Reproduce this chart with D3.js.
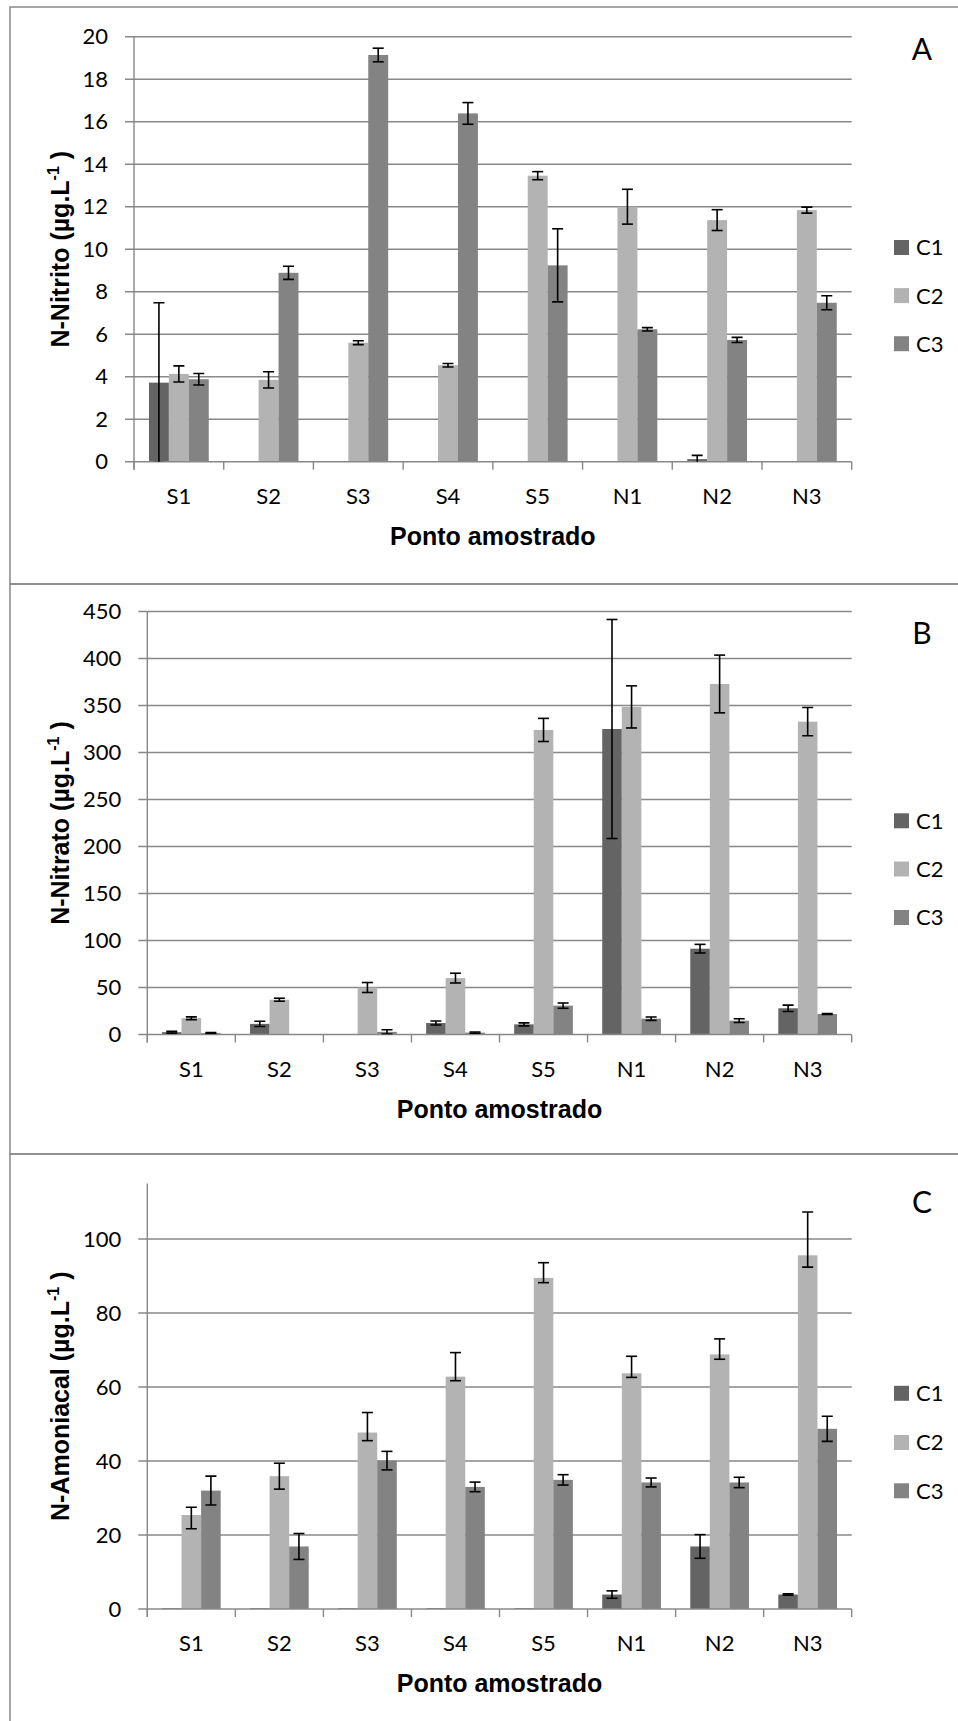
<!DOCTYPE html>
<html>
<head>
<meta charset="utf-8">
<script src="https://cdn.jsdelivr.net/npm/d3@7"></script>
<style>
  html, body { margin: 0; padding: 0; background: #fff; }
  svg { display: block; }
</style>
</head>
<body>
<svg id="chart" width="958" height="1721"></svg>
<script>
// Sampling points and campaigns
const categories = ["S1", "S2", "S3", "S4", "S5", "N1", "N2", "N3"];
const seriesNames = ["C1", "C2", "C3"];

// Panel A: N-Nitrito (µg/L), mean and error
const nitritoC1 = [3.72, 0, 0, 0, 0, 0, 0.12, 0];
const nitritoC1Err = [3.76, 0, 0, 0, 0, 0, 0.18, 0];
const nitritoC2 = [4.13, 3.85, 5.6, 4.54, 13.46, 12.0, 11.37, 11.84];
const nitritoC2Err = [0.38, 0.38, 0.09, 0.08, 0.19, 0.82, 0.49, 0.14];
const nitritoC3 = [3.88, 8.89, 19.14, 16.39, 9.24, 6.23, 5.73, 7.48];
const nitritoC3Err = [0.27, 0.31, 0.32, 0.51, 1.72, 0.08, 0.12, 0.33];
const nitritoTicks = [0, 2, 4, 6, 8, 10, 12, 14, 16, 18, 20];

// Panel B: N-Nitrato (µg/L)
const nitratoC1 = [2.5, 11.3, 0.3, 12.2, 10.8, 325, 91.3, 27.9];
const nitratoC1Err = [1, 2.8, 0, 2.1, 1.6, 116.5, 4.6, 3.4];
const nitratoC2 = [17.3, 37, 50, 60, 324, 348.5, 372.9, 332.8];
const nitratoC2Err = [1.5, 1.6, 5.3, 5.2, 12.3, 22.4, 30.7, 15];
const nitratoC3 = [1.5, 0.5, 2.8, 2, 30.7, 16.8, 14.7, 21.8];
const nitratoC3Err = [0.5, 0, 2.3, 0.7, 2.8, 1.8, 2, 0.5];
const nitratoTicks = [0, 50, 100, 150, 200, 250, 300, 350, 400, 450];

// Panel C: N-Amoniacal (µg/L); C2 has unequal upper/lower errors
const amoniacalC1 = [0.2, 0.2, 0.2, 0.2, 0.2, 3.9, 16.9, 3.9];
const amoniacalC1Err = [0, 0, 0, 0, 0, 1.0, 3.2, 0.2];
const amoniacalC2 = [25.4, 35.9, 47.7, 62.8, 89.5, 63.7, 68.8, 95.6];
const amoniacalC2ErrUp = [2.1, 3.5, 5.4, 6.5, 4.1, 4.6, 4.2, 11.7];
const amoniacalC2ErrDown = [3.7, 3.5, 2.2, 1.1, 1.3, 1.1, 1.3, 3.2];
const amoniacalC3 = [32.0, 16.9, 40.1, 33.0, 34.9, 34.2, 34.2, 48.7];
const amoniacalC3Err = [3.9, 3.5, 2.5, 1.3, 1.4, 1.2, 1.4, 3.4];
const amoniacalTicks = [0, 20, 40, 60, 80, 100];

const seriesColors = ["#646464", "#b3b3b3", "#838383"];
const gridColor = "#888888";
const labelFont = "Lato, 'Open Sans', sans-serif";
const titleFont = "'Liberation Sans', Arial, sans-serif";

const svg = d3.select("#chart");

function buildSeries(vals, up, down) {
  return vals.map((v, i) => ({ value: v, up: up[i], down: (down || up)[i] }));
}

const panels = [
  {
    letter: "A", title: "N-Nitrito (µg.L", top: 7, bottom: 584,
    left: 134, right: 851.7, y0: 461.7, yMaxPx: 36.7, yMax: 20, ticks: nitritoTicks,
    letterY: 60, legendY: [247.5, 295.6, 343.7], catY: 504, xTitleY: 545,
    series: [buildSeries(nitritoC1, nitritoC1Err), buildSeries(nitritoC2, nitritoC2Err), buildSeries(nitritoC3, nitritoC3Err)]
  },
  {
    letter: "B", title: "N-Nitrato (µg.L", top: 584, bottom: 1154,
    left: 147.3, right: 851.7, y0: 1034.5, yMaxPx: 611.5, yMax: 450, ticks: nitratoTicks,
    letterY: 644, legendY: [820.8, 869, 917.5], catY: 1077.3, xTitleY: 1118.3,
    series: [buildSeries(nitratoC1, nitratoC1Err), buildSeries(nitratoC2, nitratoC2Err), buildSeries(nitratoC3, nitratoC3Err)]
  },
  {
    letter: "C", title: "N-Amoniacal (µg.L", top: 1154, bottom: 1760,
    left: 147.3, right: 851.7, y0: 1609, yMaxPx: 1183.5, yMax: 115, ticks: amoniacalTicks,
    letterY: 1213, legendY: [1393.3, 1442.5, 1490.8], catY: 1650.7, xTitleY: 1692.3,
    series: [buildSeries(amoniacalC1, amoniacalC1Err), buildSeries(amoniacalC2, amoniacalC2ErrUp, amoniacalC2ErrDown), buildSeries(amoniacalC3, amoniacalC3Err)]
  }
];

panels.forEach(p => {
  const g = svg.append("g");

  // panel frame
  g.append("rect")
    .attr("x", 10).attr("y", p.top)
    .attr("width", 1000).attr("height", p.bottom - p.top)
    .attr("fill", "none").attr("stroke", gridColor).attr("stroke-width", 1.5);

  const y = d3.scaleLinear().domain([0, p.yMax]).range([p.y0, p.yMaxPx]);
  const x = d3.scaleBand().domain(categories).range([p.left, p.right]).paddingInner(0).paddingOuter(0);
  const xs = d3.scaleBand().domain(seriesNames).range([0, x.bandwidth()]).paddingInner(0).paddingOuter(0.75);

  // horizontal gridlines with tick marks
  g.append("g").selectAll("line").data(p.ticks.filter(t => t > 0)).join("line")
    .attr("x1", p.left - 9).attr("x2", p.right)
    .attr("y1", d => y(d)).attr("y2", d => y(d))
    .attr("stroke", gridColor).attr("stroke-width", 1.4);

  // y tick labels
  g.append("g").selectAll("text").data(p.ticks).join("text")
    .attr("x", p.left - 26).attr("y", d => y(d))
    .attr("dy", "0.35em")
    .attr("text-anchor", "end")
    .attr("font-family", labelFont).attr("font-size", 22).attr("fill", "#000")
    .text(d => d);

  // bars
  p.series.forEach((s, si) => {
    g.append("g").selectAll("rect").data(s).join("rect")
      .attr("x", (d, i) => x(categories[i]) + xs(seriesNames[si]))
      .attr("width", xs.bandwidth())
      .attr("y", d => y(d.value))
      .attr("height", d => y(0) - y(d.value))
      .attr("fill", seriesColors[si]);
  });

  // axes lines
  g.append("line").attr("x1", p.left).attr("x2", p.left)
    .attr("y1", p.yMaxPx).attr("y2", p.y0 + 8)
    .attr("stroke", gridColor).attr("stroke-width", 1.4);
  g.append("line").attr("x1", p.left - 9).attr("x2", p.right)
    .attr("y1", p.y0).attr("y2", p.y0)
    .attr("stroke", gridColor).attr("stroke-width", 1.4);

  // x tick marks at category boundaries
  const bounds = categories.map(c => x(c)).concat([p.right]);
  g.append("g").selectAll("line").data(bounds).join("line")
    .attr("x1", d => d).attr("x2", d => d)
    .attr("y1", p.y0).attr("y2", p.y0 + 8)
    .attr("stroke", gridColor).attr("stroke-width", 1.4);

  // error bars (clipped to the plotting area)
  const clipId = "clip" + p.letter;
  svg.append("clipPath").attr("id", clipId).append("rect")
    .attr("x", p.left).attr("y", 0).attr("width", p.right - p.left).attr("height", p.y0);
  const eg = g.append("g").attr("clip-path", `url(#${clipId})`);
  p.series.forEach((s, si) => {
    s.forEach((d, i) => {
      if (d.up <= 0 && d.down <= 0) return;
      const cx = x(categories[i]) + xs(seriesNames[si]) + xs.bandwidth() / 2;
      const yHi = y(d.value + d.up), yLo = y(d.value - d.down);
      eg.append("line").attr("x1", cx).attr("x2", cx).attr("y1", yHi).attr("y2", yLo)
        .attr("stroke", "#000").attr("stroke-width", 1.6);
      [yHi, yLo].forEach(yy => {
        eg.append("line").attr("x1", cx - 5.5).attr("x2", cx + 5.5).attr("y1", yy).attr("y2", yy)
          .attr("stroke", "#000").attr("stroke-width", 1.6);
      });
    });
  });

  // category labels
  g.append("g").selectAll("text").data(categories).join("text")
    .attr("x", d => x(d) + x.bandwidth() / 2).attr("y", p.catY)
    .attr("text-anchor", "middle")
    .attr("font-family", labelFont).attr("font-size", 22).attr("fill", "#000")
    .text(d => d);

  // x axis title
  g.append("text")
    .attr("x", (p.left + p.right) / 2).attr("y", p.xTitleY)
    .attr("text-anchor", "middle")
    .attr("font-family", titleFont).attr("font-weight", "bold").attr("font-size", 25)
    .text("Ponto amostrado");

  // y axis title with superscript
  const yt = g.append("text")
    .attr("transform", `translate(69,${(p.y0 + p.yMaxPx) / 2}) rotate(-90)`)
    .attr("text-anchor", "middle")
    .attr("font-family", titleFont).attr("font-weight", "bold").attr("font-size", 25);
  yt.append("tspan").text(p.title);
  yt.append("tspan").attr("font-size", 16).attr("dy", -10).text("-1");
  yt.append("tspan").attr("dy", 10).text(" )");

  // panel letter
  g.append("text")
    .attr("x", 922).attr("y", p.letterY)
    .attr("text-anchor", "middle")
    .attr("font-family", labelFont).attr("font-size", 30).attr("fill", "#000")
    .text(p.letter);

  // legend
  const lg = g.append("g").selectAll("g").data(seriesNames).join("g")
    .attr("transform", (d, i) => `translate(894,${p.legendY[i]})`);
  lg.append("rect").attr("x", 0).attr("y", -7.5).attr("width", 15).attr("height", 15)
    .attr("fill", (d, i) => seriesColors[i]);
  lg.append("text").attr("x", 22).attr("y", 0).attr("dy", "0.36em")
    .attr("font-family", labelFont).attr("font-size", 22).attr("fill", "#000")
    .text(d => d);
});
</script>
</body>
</html>
